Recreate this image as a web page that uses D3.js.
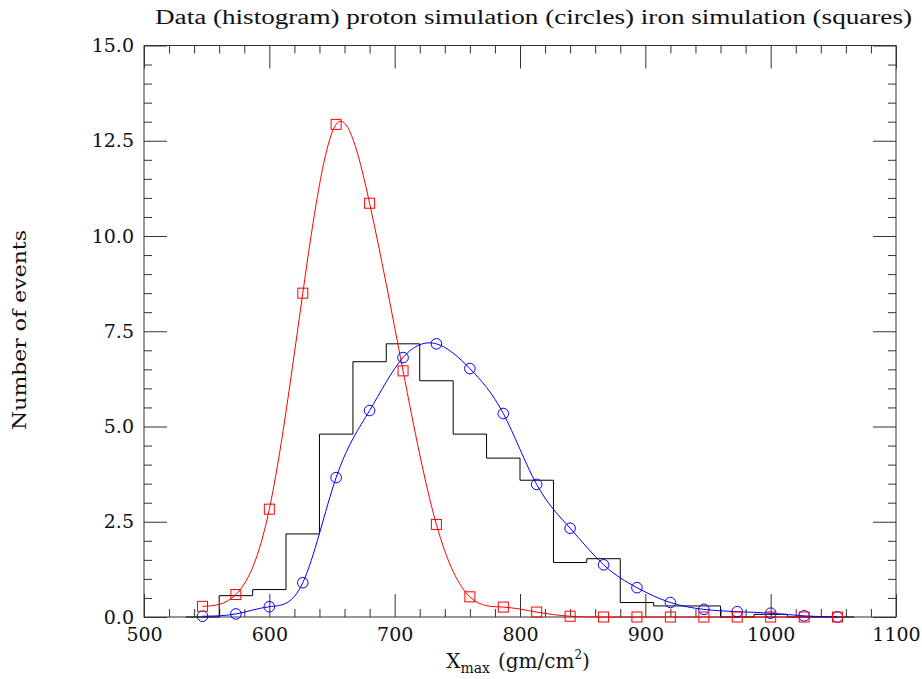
<!DOCTYPE html>
<html><head><meta charset="utf-8">
<script src="https://cdn.jsdelivr.net/npm/d3@7"></script>
<style>body{margin:0;background:#fff}svg{display:block}</style>
</head><body><svg id="c" width="922" height="679"></svg>
<script>
// ---- data ----
const xCenters = [546.7,573.3,600,626.7,653.3,680,706.7,733.3,760,786.7,813.3,840,866.7,893.3,920,946.7,973.3,1000,1026.7,1053.3];
const protonValues = [0.02,0.08,0.27,0.90,3.66,5.42,6.81,7.17,6.52,5.34,3.48,2.33,1.37,0.77,0.38,0.20,0.14,0.10,0.03,0.0];
const ironValues = [0.28,0.59,2.83,8.50,12.93,10.86,6.46,2.43,0.53,0.26,0.13,0.02,0,0,0,0,0,0,0,0];
const histEdges = [533.3,560,586.7,613.3,640,666.7,693.3,720,746.7,773.3,800,826.7,853.3,880,906.7,933.3,960,986.7,1013.3,1040,1066.7];
const histValues = [0,0.56,0.72,2.18,4.80,6.70,7.17,6.20,4.80,4.17,3.59,1.43,1.53,0.38,0.29,0.29,0,0.07,0,0];
const xTicks = [500,600,700,800,900,1000,1100];
const yTicks = [0,2.5,5,7.5,10,12.5,15];
const titleText = "Data (histogram) proton simulation (circles) iron simulation (squares)";
const yLabel = "Number of events";

// ---- layout ----
const svg = d3.select("#c");
const L = 144, R = 896, T = 45.5, B = 617;
const x = d3.scaleLinear().domain([500,1100]).range([L,R]);
const y = d3.scaleLinear().domain([0,15]).range([B,T]);
const font = "'DejaVu Serif', serif";
const titleFont = "'Liberation Serif', serif";

const xMinor = d3.range(500,1100.1,20).filter(v=>!xTicks.includes(v));
const yMinor = d3.range(0,15.01,0.5).filter(v=>!yTicks.some(t=>Math.abs(t-v)<1e-6));

function styleAxis(g){
  g.select(".domain").remove();
  g.selectAll(".tick line").attr("stroke","#333").attr("stroke-width",1);
  g.selectAll("text").attr("font-family",font).attr("font-size",19).attr("fill","#111");
}
// bottom
svg.append("g").attr("transform",`translate(0,${B})`)
  .call(d3.axisBottom(x).tickValues(xTicks).tickSize(-23).tickPadding(11).tickFormat(d3.format("d")))
  .call(styleAxis);
svg.append("g").attr("transform",`translate(0,${B})`)
  .call(d3.axisBottom(x).tickValues(xMinor).tickSize(-8).tickFormat(""))
  .call(styleAxis);
// top
svg.append("g").attr("transform",`translate(0,${T})`)
  .call(d3.axisTop(x).tickValues(xTicks).tickSize(-23).tickFormat(""))
  .call(styleAxis);
svg.append("g").attr("transform",`translate(0,${T})`)
  .call(d3.axisTop(x).tickValues(xMinor).tickSize(-8).tickFormat(""))
  .call(styleAxis);
// left
svg.append("g").attr("transform",`translate(${L},0)`)
  .call(d3.axisLeft(y).tickValues(yTicks).tickSize(-23).tickPadding(10).tickFormat(d3.format(".1f")))
  .call(styleAxis);
svg.append("g").attr("transform",`translate(${L},0)`)
  .call(d3.axisLeft(y).tickValues(yMinor).tickSize(-8).tickFormat(""))
  .call(styleAxis);
// right
svg.append("g").attr("transform",`translate(${R},0)`)
  .call(d3.axisRight(y).tickValues(yTicks).tickSize(-23).tickFormat(""))
  .call(styleAxis);
svg.append("g").attr("transform",`translate(${R},0)`)
  .call(d3.axisRight(y).tickValues(yMinor).tickSize(-8).tickFormat(""))
  .call(styleAxis);

// frame
svg.append("rect").attr("x",L).attr("y",T).attr("width",R-L).attr("height",B-T)
  .attr("fill","none").attr("stroke","#333").attr("stroke-width",1);

// histogram
const histPts = histValues.map((v,i)=>[histEdges[i],v]);
histPts.push([histEdges[histEdges.length-1], histValues[histValues.length-1]]);
svg.append("path").datum(histPts)
  .attr("d", d3.line().x(d=>x(d[0])).y(d=>y(d[1])).curve(d3.curveStepAfter))
  .attr("fill","none").attr("stroke","#000").attr("stroke-width",1);

// curves
const curve = d3.curveNatural;
svg.append("path").datum(ironValues.map((v,i)=>[xCenters[i],v]))
  .attr("d", d3.line().x(d=>x(d[0])).y(d=>y(d[1])).curve(curve))
  .attr("fill","none").attr("stroke","#ff0000").attr("stroke-width",1);
svg.append("path").datum(protonValues.map((v,i)=>[xCenters[i],v]))
  .attr("d", d3.line().x(d=>x(d[0])).y(d=>y(d[1])).curve(curve))
  .attr("fill","none").attr("stroke","#0000ff").attr("stroke-width",1);

// markers
svg.append("g").selectAll("circle").data(protonValues).join("circle")
  .attr("cx",(d,i)=>x(xCenters[i])).attr("cy",d=>y(d)).attr("r",5.3)
  .attr("fill","none").attr("stroke","#0000ff").attr("stroke-width",1);
svg.append("g").selectAll("rect").data(ironValues).join("rect")
  .attr("x",(d,i)=>x(xCenters[i])-5).attr("y",d=>y(d)-5).attr("width",10).attr("height",10)
  .attr("fill","none").attr("stroke","#ff0000").attr("stroke-width",1);

// title
svg.append("text").attr("x",533.5).attr("y",24).attr("text-anchor","middle")
  .attr("font-family",titleFont).attr("font-size",20).attr("fill","#111")
  .attr("textLength",757).attr("lengthAdjust","spacingAndGlyphs")
  .text(titleText);

// y label
svg.append("text").attr("transform","translate(26,330) rotate(-90)").attr("text-anchor","middle")
  .attr("font-family",font).attr("font-size",19).attr("fill","#111")
  .attr("textLength",200).attr("lengthAdjust","spacingAndGlyphs")
  .text(yLabel);

// x label
const xl = svg.append("text").attr("x",518).attr("y",668).attr("text-anchor","middle")
  .attr("font-family",font).attr("font-size",20).attr("fill","#111");
xl.append("tspan").text("X");
xl.append("tspan").attr("font-size",14).attr("dy",5).text("max");
xl.append("tspan").attr("dy",-5).attr("dx",8).text("(gm/cm");
xl.append("tspan").attr("font-size",12).attr("dy",-9).text("2");
xl.append("tspan").attr("dy",9).text(")");
</script></body></html>
